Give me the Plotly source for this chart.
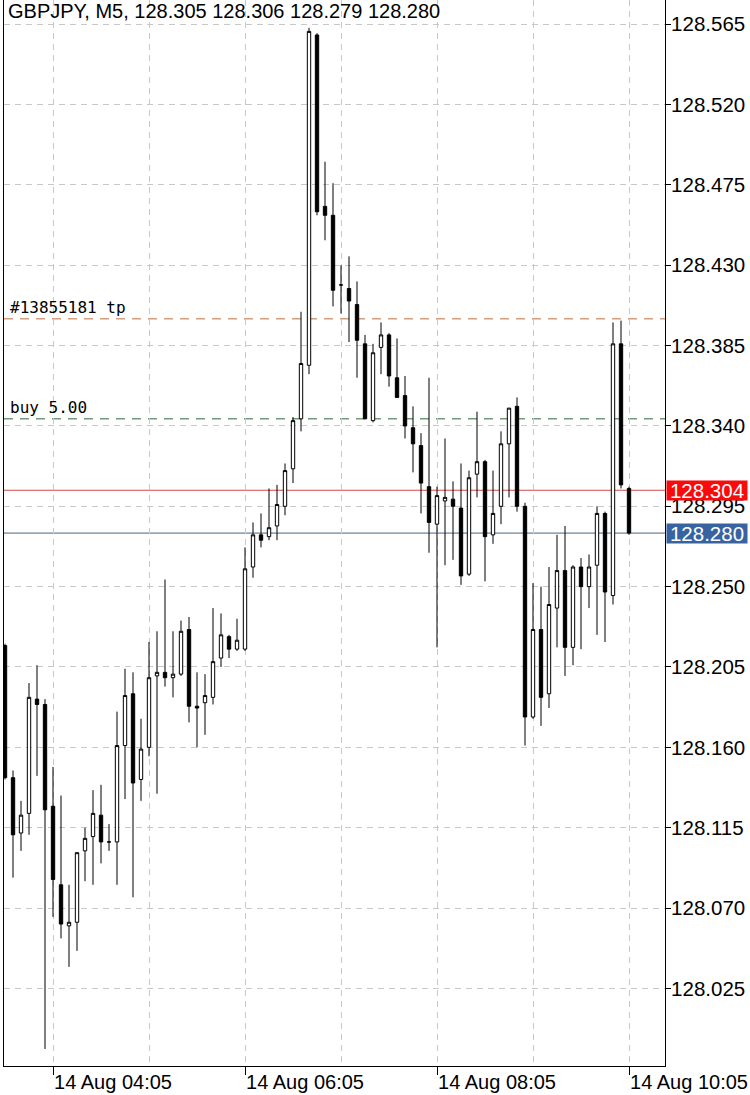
import pandas as pd
import plotly.graph_objects as go

# ---------------- data ----------------
times = pd.date_range("2019-08-14 03:35", "2019-08-14 10:05", freq="5min")

opens = [128.217, 128.143, 128.112, 128.123, 128.187, 128.184, 128.127, 128.083, 128.060, 128.062,
         128.102, 128.110, 128.122, 128.107, 128.107, 128.161, 128.190, 128.142, 128.160, 128.200,
         128.202, 128.199, 128.201, 128.226, 128.183, 128.185, 128.188, 128.210, 128.222, 128.215,
         128.215, 128.261, 128.279, 128.278, 128.284, 128.295, 128.316, 128.344, 128.374, 128.559,
         128.463, 128.458, 128.419, 128.417, 128.408, 128.386, 128.343, 128.384, 128.391, 128.367,
         128.357, 128.339, 128.329, 128.306, 128.285, 128.298, 128.299, 128.294, 128.257, 128.313,
         128.320, 128.279, 128.295, 128.330, 128.351, 128.295, 128.177, 128.226, 128.190, 128.238,
         128.259, 128.216, 128.261, 128.250, 128.262, 128.291, 128.245, 128.386, 128.305]
highs = [128.218, 128.147, 128.130, 128.196, 128.206, 128.187, 128.149, 128.133, 128.083, 128.101,
         128.115, 128.136, 128.139, 128.117, 128.180, 128.204, 128.202, 128.176, 128.219, 128.225,
         128.254, 128.225, 128.231, 128.233, 128.202, 128.201, 128.238, 128.235, 128.223, 128.232,
         128.272, 128.286, 128.291, 128.305, 128.307, 128.319, 128.345, 128.404, 128.563, 128.560,
         128.488, 128.476, 128.430, 128.435, 128.421, 128.391, 128.386, 128.398, 128.392, 128.389,
         128.368, 128.351, 128.336, 128.367, 128.306, 128.333, 128.309, 128.319, 128.315, 128.348,
         128.321, 128.315, 128.337, 128.350, 128.356, 128.297, 128.252, 128.250, 128.261, 128.279,
         128.284, 128.262, 128.266, 128.268, 128.295, 128.292, 128.398, 128.399, 128.306]
lows = [128.142, 128.087, 128.102, 128.111, 128.144, 127.991, 128.065, 128.053, 128.037, 128.046,
        128.085, 128.083, 128.095, 128.102, 128.083, 128.131, 128.076, 128.130, 128.155, 128.134,
        128.194, 128.188, 128.200, 128.174, 128.160, 128.167, 128.184, 128.205, 128.210, 128.214,
        128.214, 128.255, 128.272, 128.276, 128.276, 128.290, 128.308, 128.337, 128.369, 128.458,
        128.444, 128.407, 128.403, 128.387, 128.367, 128.344, 128.342, 128.369, 128.362, 128.356,
        128.333, 128.314, 128.291, 128.269, 128.216, 128.262, 128.265, 128.251, 128.256, 128.300,
        128.253, 128.274, 128.285, 128.300, 128.292, 128.161, 128.176, 128.172, 128.182, 128.216,
        128.200, 128.206, 128.215, 128.238, 128.223, 128.219, 128.240, 128.305, 128.279]
closes = [128.143, 128.111, 128.122, 128.188, 128.184, 128.125, 128.086, 128.061, 128.062, 128.101,
          128.109, 128.123, 128.107, 128.107, 128.161, 128.189, 128.140, 128.159, 128.199, 128.202,
          128.199, 128.201, 128.225, 128.183, 128.182, 128.189, 128.208, 128.223, 128.215, 128.220,
          128.260, 128.279, 128.276, 128.283, 128.296, 128.315, 128.343, 128.375, 128.561, 128.460,
          128.458, 128.416, 128.419, 128.410, 128.388, 128.344, 128.381, 128.391, 128.368, 128.356,
          128.340, 128.330, 128.308, 128.286, 128.301, 128.300, 128.295, 128.256, 128.311, 128.320,
          128.278, 128.291, 128.330, 128.350, 128.295, 128.177, 128.226, 128.188, 128.240, 128.259,
          128.216, 128.261, 128.250, 128.261, 128.291, 128.247, 128.386, 128.307, 128.280]

symbol_title = "GBPJPY, M5, 128.305 128.306 128.279 128.280"
tp_price = 128.400
tp_label = "#13855181 tp"
buy_price = 128.344
buy_label = "buy 5.00"
ask_price = 128.304
bid_price = 128.280

y_range = [127.9815, 128.5786]
x_range = ["2019-08-14 03:34:22", "2019-08-14 10:27:30"]

FONT = "Liberation Sans"

fig = go.Figure()
fig.add_trace(go.Candlestick(
    x=times, open=opens, high=highs, low=lows, close=closes,
    increasing=dict(line=dict(color="black", width=1), fillcolor="white"),
    decreasing=dict(line=dict(color="black", width=1), fillcolor="black"),
    whiskerwidth=0, hoverinfo="skip", showlegend=False,
))

# horizontal level lines
shapes = [
    dict(type="line", xref="paper", x0=0, x1=1, yref="y", y0=tp_price, y1=tp_price,
         line=dict(color="rgb(190,110,60)", width=1, dash="9px,7px"), layer="below"),
    dict(type="line", xref="paper", x0=0, x1=1, yref="y", y0=buy_price, y1=buy_price,
         line=dict(color="rgb(45,105,55)", width=1, dash="9px,7px"), layer="below"),
    dict(type="line", xref="paper", x0=0, x1=1, yref="y", y0=ask_price, y1=ask_price,
         line=dict(color="rgb(215,70,70)", width=1), layer="below"),
    dict(type="line", xref="paper", x0=0, x1=1, yref="y", y0=bid_price, y1=bid_price,
         line=dict(color="rgb(70,100,130)", width=1), layer="below"),
]

annotations = [
    dict(text=symbol_title, xref="paper", yref="paper", x=0, y=1, xanchor="left", yanchor="top",
         xshift=2, yshift=2, showarrow=False, font=dict(family=FONT, size=20, color="black")),
    dict(text=tp_label, xref="paper", yref="y", x=0, y=tp_price, xanchor="left", yanchor="bottom",
         xshift=4, yshift=0, showarrow=False, font=dict(family="DejaVu Sans Mono", size=16, color="black")),
    dict(text=buy_label, xref="paper", yref="y", x=0, y=buy_price, xanchor="left", yanchor="bottom",
         xshift=4, yshift=0, showarrow=False, font=dict(family="DejaVu Sans Mono", size=16, color="black")),
    dict(text=f"{ask_price:.3f}", xref="paper", yref="y", x=1, y=ask_price, xanchor="left", yanchor="middle",
         xshift=1, showarrow=False, bgcolor="rgb(250,10,10)", width=80, height=19, align="center",
         borderpad=0, font=dict(family=FONT, size=20.5, color="white")),
    dict(text=f"{bid_price:.3f}", xref="paper", yref="y", x=1, y=bid_price, xanchor="left", yanchor="middle",
         xshift=1, showarrow=False, bgcolor="rgb(55,100,160)", width=80, height=19, align="center",
         borderpad=0, font=dict(family=FONT, size=20.5, color="white")),
]

fig.update_layout(
    width=750, height=1095,
    margin=dict(l=4, r=85, t=0, b=29, autoexpand=False),
    paper_bgcolor="white", plot_bgcolor="white",
    boxgap=0.4,
    shapes=shapes, annotations=annotations,
    showlegend=False,
    xaxis=dict(
        type="date", range=x_range, rangeslider=dict(visible=False),
        tick0="2019-08-14 04:05", dtick=7200000, tickformat="%d %b %H:%M",
        ticks="outside", ticklen=8, tickcolor="black", ticklabelshift=60,
        ticklabelstandoff=-10,
        showgrid=True, gridcolor="rgb(200,200,200)", griddash="6px,5px", gridwidth=1,
        minor=dict(tick0="2019-08-14 04:05", dtick=3600000, showgrid=True,
                   gridcolor="rgb(200,200,200)", griddash="6px,5px", gridwidth=1, ticks=""),
        showline=True, linecolor="black", linewidth=1, mirror=False,
        zeroline=False, automargin=False,
        tickfont=dict(family=FONT, size=20, color="black"),
    ),
    yaxis=dict(
        side="right", range=y_range, tick0=128.025, dtick=0.045, tickformat=".3f",
        ticks="outside", ticklen=5, tickcolor="black", ticklabelstandoff=-4,
        showgrid=True, gridcolor="rgb(200,200,200)", griddash="6px,5px", gridwidth=1,
        showline=True, linecolor="black", linewidth=1, mirror=True,
        zeroline=False, automargin=False,
        tickfont=dict(family=FONT, size=20.5, color="black"),
    ),
)

fig.write_html(
    "out.html",
    config={"displayModeBar": False},
    post_script="document.body.style.margin='0';document.body.style.padding='0';",
)
